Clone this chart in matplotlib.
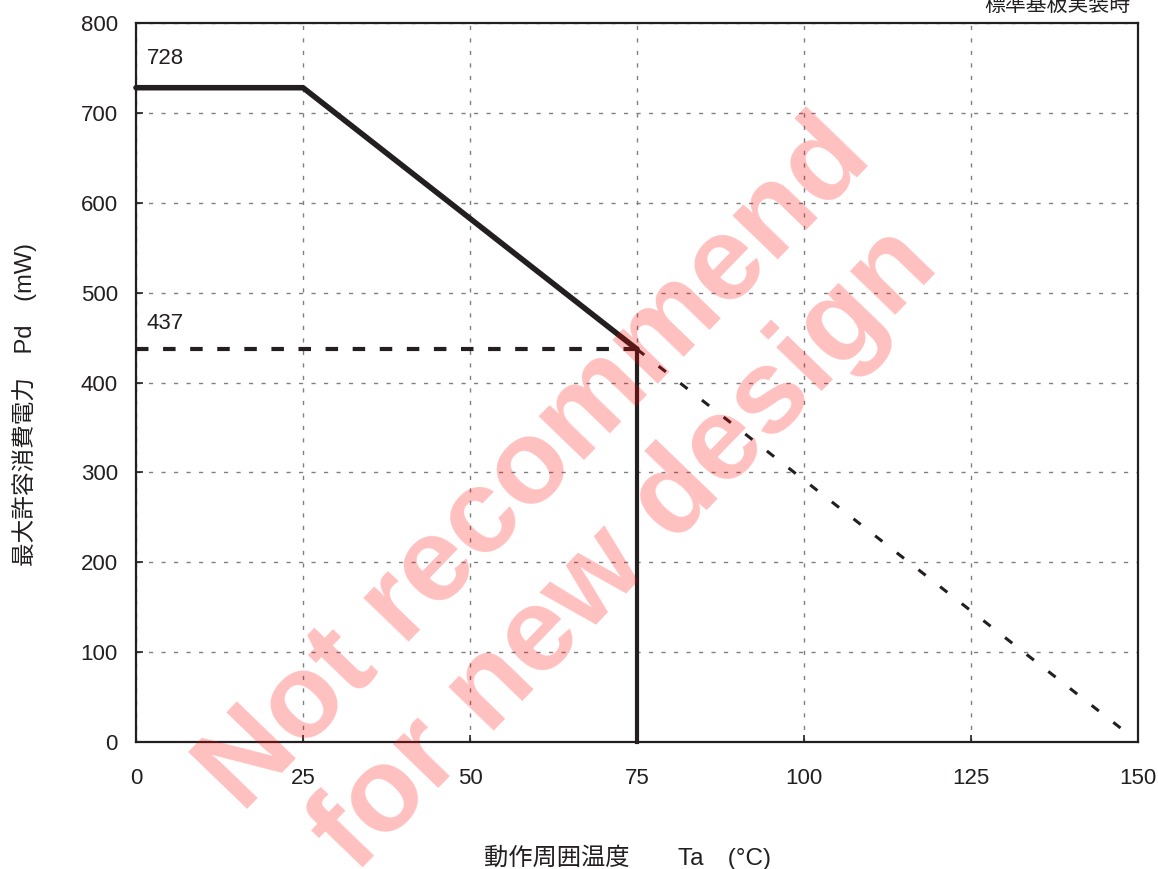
import matplotlib
matplotlib.use("Agg")
import matplotlib.pyplot as plt

plt.rcParams['font.family'] = ['Liberation Sans', 'Noto Sans CJK JP', 'DejaVu Sans']

# Data
derate_x = [0, 25, 75]
derate_y = [728, 728, 437]
cut_x = [75, 75]
cut_y = [437, 0]
ref_x = [0, 75]
ref_y = [437, 437]
ext_x = [75, 148]
ext_y = [437, 12]
xticks = [0, 25, 50, 75, 100, 125, 150]
yticks = [0, 100, 200, 300, 400, 500, 600, 700, 800]
annot_vals = [728, 437]

fig = plt.figure(figsize=(11.58, 8.69), dpi=100)
ax = fig.add_axes([136/1158, 1-742/869, (1138-136)/1158, (742-23)/869])
ax.set_xlim(0, 150)
ax.set_ylim(0, 800)
ax.set_xticks(xticks)
ax.set_yticks(yticks)
ax.tick_params(direction='in', length=5, width=1.2, labelsize=16, colors='#231f20')
ax.tick_params(axis='x', pad=19)
ax.tick_params(axis='y', pad=13)
ax.grid(True, color='#808080', linestyle=(0, (3, 6)), linewidth=1.0)
for s in ax.spines.values():
    s.set_color('#231f20')
    s.set_linewidth(1.6)

c = '#231f20'
ax.plot(derate_x, derate_y, color=c, linewidth=4.0, solid_capstyle='round', zorder=3, clip_on=False)
ax.plot(cut_x, cut_y, color=c, linewidth=3.0, zorder=3, clip_on=False)
ax.plot(ref_x, ref_y, color=c, linewidth=3.0, linestyle=(0, (3, 3.5)), zorder=3)
ax.plot(ext_x, ext_y, color=c, linewidth=2.2, linestyle=(0, (3, 6)), zorder=3)

ax.text(1.6, annot_vals[0] + 33, str(annot_vals[0]), fontsize=16, color=c, va='center')
ax.text(1.6, annot_vals[1] + 29, str(annot_vals[1]), fontsize=16, color=c, va='center')

fig.text(628/1158, 1 - 857/869, '動作周囲温度\u3000\u3000Ta\u3000(°C)',
         fontsize=17.5, color=c, ha='center', va='center')
fig.text(25/1158, 1 - 405/869, '最大許容消費電力\u3000Pd\u3000(mW)',
         fontsize=17, color=c, ha='center', va='center', rotation=90)

fig.text(1130/1158, 1-11/869, '標準基板実装時', fontsize=15, color=c, ha='right', va='baseline')

# watermark
fig.text(536/1158, 1-466/869, 'Not recommend', fontsize=86, fontweight='bold', color='#ff0000',
         alpha=0.25, rotation=46, ha='center', va='center', zorder=10)
fig.text(626/1158, 1-550/869, 'for new design', fontsize=86, fontweight='bold', color='#ff0000',
         alpha=0.25, rotation=46, ha='center', va='center', zorder=10)

fig.savefig('out.png', dpi=100)
